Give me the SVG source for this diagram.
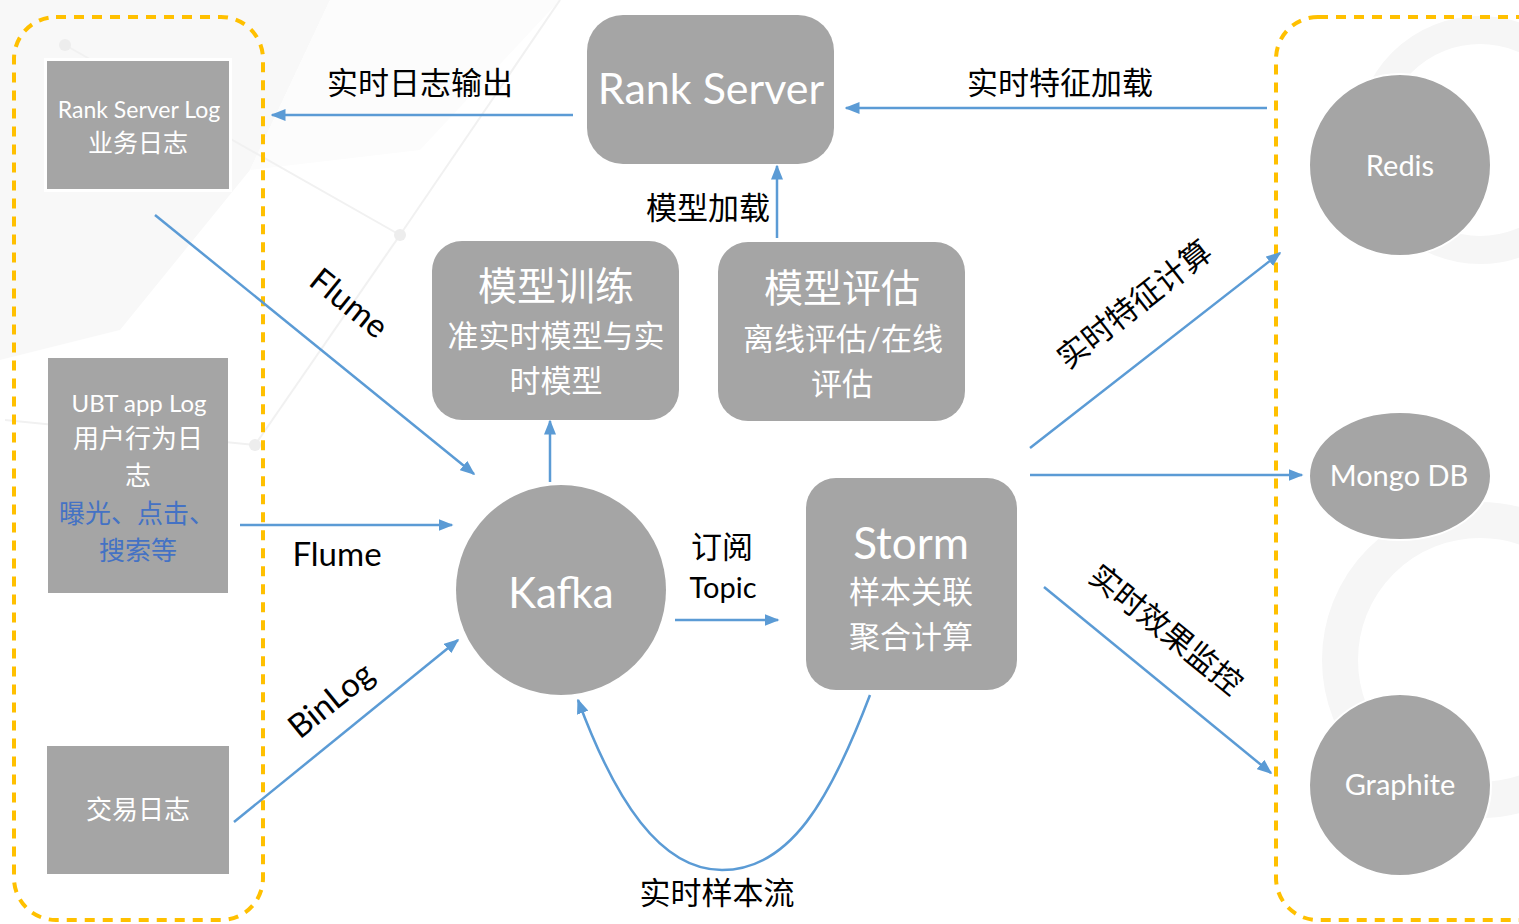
<svg xmlns="http://www.w3.org/2000/svg" width="1519" height="924" viewBox="0 0 1519 924">
<defs>
<style>
.box{fill:#A5A5A5}
.wt{fill:#FFFFFF;font-family:Lato,"Noto Sans CJK SC",sans-serif;text-anchor:middle}
.bl{fill:#000000;font-family:Lato,"Noto Sans CJK SC",sans-serif;text-anchor:middle}
.blue{fill:#4472C4}
.con{stroke:#5B9BD5;stroke-width:2.5;fill:none;marker-end:url(#arr)}
.cont{fill:none;stroke:#FFC000;stroke-width:4;stroke-dasharray:10 8}
.bg{stroke:#F1F1F1;stroke-width:2;fill:none}
</style>
<marker id="arr" viewBox="0 0 10 8" refX="9" refY="4" markerWidth="15" markerHeight="12" markerUnits="userSpaceOnUse" orient="auto">
<path d="M0,0 L10,4 L0,8 z" fill="#5B9BD5"/>
</marker>
</defs>
<rect width="1519" height="924" fill="#FFFFFF"/>
<g id="background">
<polygon points="0,0 330,0 250,170 120,330 0,360" fill="#F8F8F8"/>
<polygon points="330,0 560,0 420,150 250,170" fill="#FCFCFC"/>
<line class="bg" x1="65" y1="45" x2="400" y2="235"/>
<line class="bg" x1="400" y1="235" x2="255" y2="445"/>
<line class="bg" x1="255" y1="445" x2="5" y2="420"/>
<line class="bg" x1="400" y1="235" x2="560" y2="0"/>
<circle cx="65" cy="45" r="6" fill="#EDEDED"/>
<circle cx="400" cy="235" r="6" fill="#EDEDED"/>
<circle cx="255" cy="445" r="6" fill="#EDEDED"/>
<circle cx="1480" cy="660" r="140" fill="none" stroke="#F6F6F6" stroke-width="36"/>
<circle cx="1480" cy="140" r="110" fill="none" stroke="#F6F6F6" stroke-width="28"/>
</g>
<g id="containers">
<rect class="cont" x="14" y="17" width="249" height="903" rx="42"/>
<rect class="cont" x="1276" y="17" width="290" height="903" rx="42"/>
</g>
<g id="connectors">
<line class="con" x1="573" y1="115" x2="272" y2="115"/>
<line class="con" x1="1267" y1="108" x2="846" y2="108"/>
<line class="con" x1="777" y1="238" x2="777" y2="166"/>
<line class="con" x1="550" y1="482" x2="550" y2="421"/>
<line class="con" x1="155" y1="215" x2="474" y2="474"/>
<line class="con" x1="240" y1="525" x2="452" y2="525"/>
<line class="con" x1="234" y1="822" x2="458" y2="640"/>
<line class="con" x1="675" y1="620" x2="778" y2="620"/>
<line class="con" x1="1030" y1="448" x2="1280" y2="253"/>
<line class="con" x1="1030" y1="475" x2="1302" y2="475"/>
<line class="con" x1="1044" y1="587" x2="1271" y2="773"/>
<path class="con" d="M870,695 C830,800 790,870 722,870 C660,870 615,800 578,700"/>
<text class="bl" x="420" y="94" font-size="31">实时日志输出</text>
<text class="bl" x="1060" y="94" font-size="31">实时特征加载</text>
<text class="bl" x="708" y="219" font-size="31">模型加载</text>
<text class="bl" x="717" y="904" font-size="31">实时样本流</text>
<text class="bl" x="337" y="566" font-size="33">Flume</text>
<text class="bl" font-size="33" transform="translate(342,312) rotate(39)">Flume</text>
<text class="bl" font-size="33" transform="translate(338,709) rotate(-39)">BinLog</text>
<text class="bl" x="722" y="558" font-size="31">订阅</text>
<text class="bl" x="723" y="598" font-size="29">Topic</text>
<text class="bl" font-size="31" transform="translate(1141,313) rotate(-38)">实时特征计算</text>
<text class="bl" font-size="31" transform="translate(1159,638) rotate(39)">实时效果监控</text>
</g>
<g id="rank-server-log">
<rect x="44" y="58" width="188" height="134" fill="#FFFFFF"/>
<rect class="box" x="47" y="61" width="182" height="128"/>
<text class="wt" x="139" y="118" font-size="23">Rank Server Log</text>
<text class="wt" x="138" y="152" font-size="25">业务日志</text>
</g>
<g id="ubt-app-log">
<rect class="box" x="48" y="358" width="180" height="235"/>
<text class="wt" x="139" y="412" font-size="24">UBT app Log</text>
<text class="wt" x="138" y="448" font-size="26">用户行为日</text>
<text class="wt" x="138" y="485" font-size="26">志</text>
<text class="wt blue" x="137" y="523" font-size="26">曝光、点击、</text>
<text class="wt blue" x="138" y="560" font-size="26">搜索等</text>
</g>
<g id="trade-log">
<rect class="box" x="47" y="746" width="182" height="128"/>
<text class="wt" x="138" y="819" font-size="26">交易日志</text>
</g>
<g id="rank-server">
<rect class="box" x="587" y="15" width="247" height="149" rx="36"/>
<text class="wt" x="711" y="104" font-size="43">Rank Server</text>
</g>
<g id="model-training">
<rect class="box" x="432" y="241" width="247" height="179" rx="30"/>
<text class="wt" x="556" y="300" font-size="39">模型训练</text>
<text class="wt" x="556" y="347" font-size="31">准实时模型与实</text>
<text class="wt" x="556" y="392" font-size="31">时模型</text>
</g>
<g id="model-eval">
<rect class="box" x="718" y="242" width="247" height="179" rx="30"/>
<text class="wt" x="842" y="302" font-size="39">模型评估</text>
<text class="wt" x="843" y="350" font-size="31">离线评估/在线</text>
<text class="wt" x="842" y="395" font-size="31">评估</text>
</g>
<g id="kafka">
<circle class="box" cx="561" cy="590" r="105"/>
<text class="wt" x="561" y="608" font-size="42">Kafka</text>
</g>
<g id="storm">
<rect class="box" x="806" y="478" width="211" height="212" rx="30"/>
<text class="wt" x="911" y="559" font-size="44">Storm</text>
<text class="wt" x="911" y="603" font-size="31">样本关联</text>
<text class="wt" x="911" y="648" font-size="31">聚合计算</text>
</g>
<g id="redis">
<circle class="box" cx="1400" cy="165" r="91" stroke="#FFFFFF" stroke-width="2"/>
<text class="wt" x="1400" y="176" font-size="29">Redis</text>
</g>
<g id="mongodb">
<ellipse class="box" cx="1400" cy="476" rx="91" ry="64" stroke="#FFFFFF" stroke-width="2"/>
<text class="wt" x="1399" y="486" font-size="29">Mongo DB</text>
</g>
<g id="graphite">
<circle class="box" cx="1400" cy="785" r="91" stroke="#FFFFFF" stroke-width="2"/>
<text class="wt" x="1400" y="795" font-size="29">Graphite</text>
</g>
</svg>
